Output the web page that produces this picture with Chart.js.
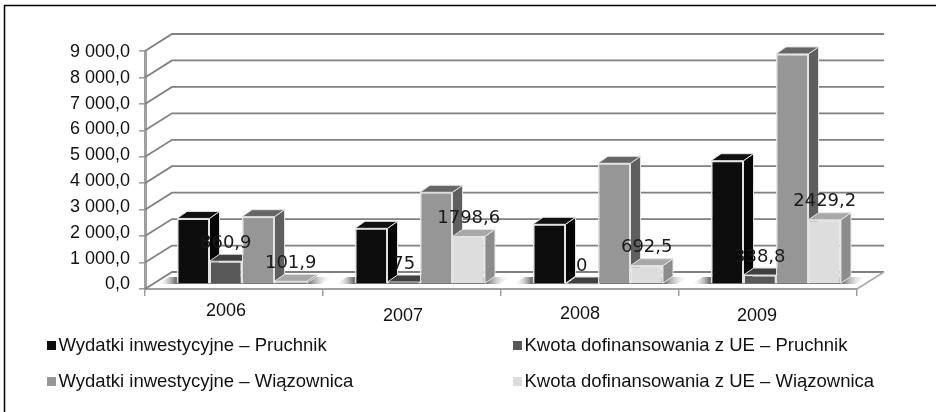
<!DOCTYPE html>
<html><head><meta charset="utf-8">
<style>html,body{margin:0;padding:0;background:#fff}#w{position:relative;width:936px;height:412px}</style>
<script src="https://cdn.jsdelivr.net/npm/chart.js@4"></script>
</head><body><div id="w"><canvas id="c" width="936" height="412"></canvas></div>
<script>
const categories = ['2006', '2007', '2008', '2009'];
const seriesNames = ['Wydatki inwestycyjne – Pruchnik', 'Kwota dofinansowania z UE – Pruchnik', 'Wydatki inwestycyjne – Wiązownica', 'Kwota dofinansowania z UE – Wiązownica'];
const wydatkiPruchnik = [2480, 2105, 2258, 4663];
const dofinansowaniePruchnik = [860.9, 75, 0, 338.8];
const wydatkiWiazownica = [2545, 3468, 4565, 8700];
const dofinansowanieWiazownica = [101.9, 1798.6, 692.5, 2429.2];
const labelledSeries = [1, 3];

const frontColors = ['#0d0d0d', '#595959', '#969696', '#dddddd'];
const topColors = ['#111111', '#404040', '#666666', '#a8a8a8'];
const sideColors = ['#060606', '#333333', '#5f5f5f', '#8c8c8c'];
const edge = '#e4e4e4', gridColor = '#808080', axisColor = '#a0a0a0';
const DEPTH = {x: 10, y: 7}, WALL = {x: 27, y: 17}, BAR_SHIFT = {x: 8, y: 5};
const LABEL_SHIFT = [[-8, -5], [-9, 0], [-10, -2], [-11, 0]];
const Y_LABEL_SHIFT = {atZero: -4.5, atMax: 1};
const LEGEND_CELLS = [[47, 346], [513, 346], [47, 382], [513, 382]];
const LEGEND_FONT = '18.5px "Liberation Sans"';

function poly(ctx, pts, fill, stroke) {
  ctx.beginPath();
  pts.forEach((p, i) => i ? ctx.lineTo(p[0], p[1]) : ctx.moveTo(p[0], p[1]));
  ctx.closePath();
  ctx.fillStyle = fill; ctx.fill();
  if (stroke) { ctx.strokeStyle = stroke; ctx.lineWidth = 1; ctx.stroke(); }
}

const scene3d = {
  id: 'scene3d',
  beforeDraw(chart) {
    const ctx = chart.ctx;
    ctx.save();
    ctx.fillStyle = '#fff'; ctx.fillRect(0, 0, chart.width, chart.height);
    ctx.strokeStyle = '#000'; ctx.lineWidth = 1.5;
    ctx.beginPath(); ctx.moveTo(4.5, 412); ctx.lineTo(4.5, 5.5); ctx.lineTo(936, 5.5); ctx.stroke();
    ctx.restore();
    chart.scales.x.getLabelItems(chart.chartArea).forEach((item, i) => {
      if (item._shifted) return;
      item._shifted = true;
      item.options.translation = [item.options.translation[0] + LABEL_SHIFT[i][0], item.options.translation[1] + LABEL_SHIFT[i][1]];
    });
    const ys = chart.scales.y;
    ys.getLabelItems(chart.chartArea).forEach((item, i) => {
      if (item._shifted) return;
      item._shifted = true;
      const f = ys.ticks[i].value / ys.max;
      item.options.translation = [item.options.translation[0], item.options.translation[1] + Y_LABEL_SHIFT.atZero + (Y_LABEL_SHIFT.atMax - Y_LABEL_SHIFT.atZero) * f];
    });
  },
  beforeDatasetsDraw(chart) {
    const ctx = chart.ctx, y = chart.scales.y, a = chart.chartArea;
    ctx.save();
    ctx.lineCap = 'butt';
    y.ticks.forEach(t => {
      const py = y.getPixelForValue(t.value);
      ctx.strokeStyle = gridColor; ctx.lineWidth = 1.8;
      ctx.beginPath(); ctx.moveTo(a.left, py); ctx.lineTo(a.left + WALL.x, py - WALL.y); ctx.lineTo(a.right + WALL.x, py - WALL.y); ctx.stroke();
    });
    ctx.strokeStyle = '#a8a8a8'; ctx.lineWidth = 1.5;
    ctx.beginPath(); ctx.moveTo(a.right, a.bottom); ctx.lineTo(a.right + WALL.x, a.bottom - WALL.y); ctx.stroke();

    // floor shadows
    const first = chart.getDatasetMeta(0).data, last = chart.getDatasetMeta(3).data;
    categories.forEach((_, j) => {
      const l = first[j].x - first[j].width / 2 + BAR_SHIFT.x, r = last[j].x + last[j].width / 2 + BAR_SHIFT.x;
      const b = a.bottom - BAR_SHIFT.y;
      const g = ctx.createLinearGradient(l - 20, 0, r + 26, 0);
      const span = r + 26 - (l - 20);
      g.addColorStop(0, 'rgba(255,255,255,0)');
      g.addColorStop(18 / span, '#777777');
      g.addColorStop(1 - 24 / span, '#777777');
      g.addColorStop(1, 'rgba(255,255,255,0)');
      poly(ctx, [[l - 20, b], [l - 8, b - DEPTH.y], [r + 26, b - DEPTH.y], [r + 14, b]], g);
    });

    // bar tops and sides, painted series by series
    ctx.translate(BAR_SHIFT.x, -BAR_SHIFT.y);
    categories.forEach((_, j) => {
      chart.data.datasets.forEach((ds, i) => {
        const e = chart.getDatasetMeta(i).data[j];
        const l = e.x - e.width / 2, r = e.x + e.width / 2, t = e.y, b = e.base;
        poly(ctx, [[r, t], [r + DEPTH.x, t - DEPTH.y], [r + DEPTH.x, b - DEPTH.y], [r, b]], sideColors[i], edge);
        poly(ctx, [[l, t], [l + DEPTH.x, t - DEPTH.y], [r + DEPTH.x, t - DEPTH.y], [r, t]], topColors[i], edge);
      });
    });
  },
  afterDatasetsDraw(chart) {
    const ctx = chart.ctx;
    ctx.restore();
    ctx.save();
    ctx.font = '18px "DejaVu Sans"';
    ctx.fillStyle = '#1a1a1a';
    ctx.textAlign = 'center'; ctx.textBaseline = 'middle';
    labelledSeries.forEach(i => {
      chart.getDatasetMeta(i).data.forEach((e, j) => {
        const v = chart.data.datasets[i].data[j];
        ctx.fillText(String(v).replace('.', ','), e.x + BAR_SHIFT.x, e.y - BAR_SHIFT.y - 18);
      });
    });
    ctx.restore();
  },
  afterDraw(chart) {
    const ctx = chart.ctx;
    ctx.save();
    ctx.font = LEGEND_FONT;
    ctx.textBaseline = 'middle'; ctx.textAlign = 'left';
    chart.data.datasets.forEach((ds, i) => {
      const [x, y] = LEGEND_CELLS[i];
      ctx.fillStyle = frontColors[i];
      ctx.fillRect(x, y - 5, 9, 9);
      ctx.fillStyle = '#111';
      ctx.fillText(ds.label, x + 11.5, y);
    });
    ctx.restore();
  }
};

const seriesValues = [wydatkiPruchnik, dofinansowaniePruchnik, wydatkiWiazownica, dofinansowanieWiazownica];
new Chart(document.getElementById('c'), {
  type: 'bar',
  data: {
    labels: categories,
    datasets: seriesNames.map((label, i) => ({
      label, data: seriesValues[i],
      backgroundColor: frontColors[i], borderColor: edge, borderWidth: 1.5,
      categoryPercentage: 0.73, barPercentage: 1, clip: false
    }))
  },
  options: {
    responsive: false, animation: false, devicePixelRatio: 1,
    layout: {padding: {top: 51, right: 79, left: 0, bottom: 0}},
    plugins: {legend: {display: false}, tooltip: {enabled: false}},
    scales: {
      x: {
        offset: true,
        afterFit: s => { s.height = 412 - 289; },
        grid: {drawOnChartArea: false, drawTicks: true, tickLength: 7, color: axisColor, lineWidth: 1.5, offset: true},
        border: {color: axisColor, width: 2},
        ticks: {font: {family: '"Liberation Sans"', size: 18}, color: '#111', padding: 9, maxRotation: 0, autoSkip: false}
      },
      y: {
        min: 0, max: 9000,
        afterFit: s => { s.width = 145; },
        grid: {drawOnChartArea: false, drawTicks: true, tickLength: 6, color: axisColor, lineWidth: 1.6},
        border: {color: axisColor, width: 3},
        ticks: {
          stepSize: 1000, padding: 9, color: '#111',
          font: {family: '"Liberation Sans"', size: 18},
          callback: v => { const s = String(v); return (s.length > 3 ? s.slice(0, -3) + ' ' + s.slice(-3) : s) + ',0'; }
        }
      }
    }
  },
  plugins: [scene3d]
});
</script></body></html>
